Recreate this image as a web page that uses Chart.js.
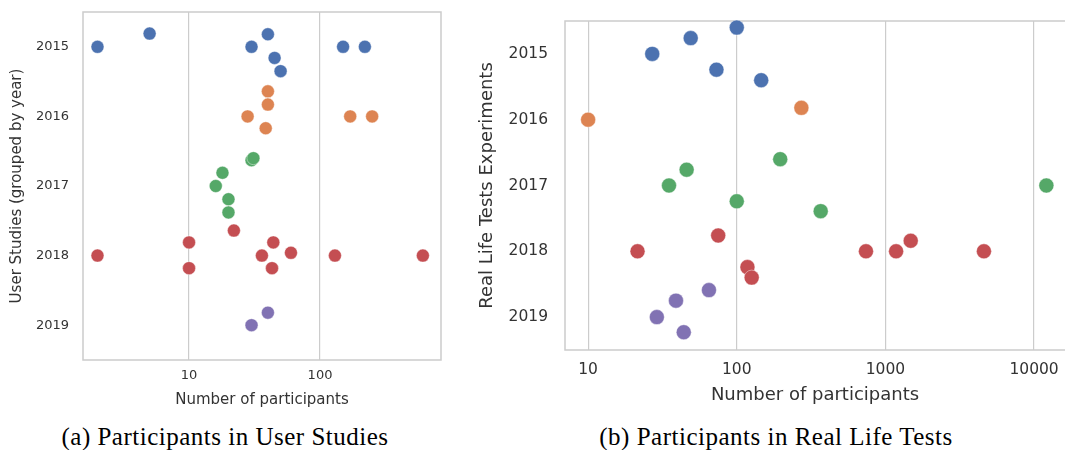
<!DOCTYPE html>
<html>
<head>
<meta charset="utf-8">
<script src="https://cdn.jsdelivr.net/npm/chart.js@4.4.0/dist/chart.umd.min.js"></script>
<style>
  html, body { margin: 0; padding: 0; background: #fff; overflow: hidden; }
  body { width: 1065px; height: 450px; position: relative; }
  canvas { position: absolute; top: 0; }
  #userChart { left: 0; }
  #realChart { left: 470px; }
  .caption {
    position: absolute; top: 424px;
    font-family: "Liberation Serif", serif; font-size: 25px; line-height: 25px;
    letter-spacing: 0.5px; color: #000; white-space: nowrap;
    transform: translateX(-50%);
  }
</style>
</head>
<body>
<canvas id="userChart" width="450" height="415"></canvas>
<canvas id="realChart" width="595" height="415"></canvas>
<div class="caption" style="left:225px">(a) Participants in User Studies</div>
<div class="caption" style="left:776px">(b) Participants in Real Life Tests</div>
<script>
const years = ["2015", "2016", "2017", "2018", "2019"];
const colors = ["#4C72B0", "#DD8452", "#55A868", "#C44E52", "#8172B3"];

// participants per study, one list per year (a)
const userCounts = [
  [2, 5, 40, 30, 45, 50, 150, 220],
  [40, 40, 28, 38.5, 170, 250],
  [30, 31, 18, 16, 20, 20],
  [22, 10, 2, 10, 36, 44, 60, 43, 130, 610],
  [40, 30],
];
// vertical jitter of each point around its year row
const userJitter = [
  [0, -0.19, -0.18, 0, 0.16, 0.35, 0, 0],
  [-0.36, -0.17, 0, 0.17, 0, 0],
  [-0.37, -0.4, -0.19, 0, 0.19, 0.38],
  [-0.36, -0.19, 0, 0.18, 0, -0.19, -0.04, 0.18, 0, 0],
  [-0.18, 0],
];

// participants per real life test, one list per year (b)
const realCounts = [
  [100, 49, 27, 73, 146],
  [10, 272],
  [196, 46, 35, 12100, 100, 367],
  [75, 21.5, 740, 1180, 1480, 4600, 118, 126],
  [65, 39, 29, 44],
];
const realJitter = [
  [-0.4, -0.24, 0, 0.24, 0.4],
  [0, -0.18],
  [-0.4, -0.24, 0, 0, 0.24, 0.39],
  [-0.24, 0, 0, 0, -0.16, 0, 0.24, 0.4],
  [-0.41, -0.25, 0, 0.23],
];

const userTicks = [10, 100];
const realTicks = [10, 100, 1000, 10000];

Chart.defaults.font.family = "DejaVu Sans";
Chart.defaults.color = "#333";

const frame = {
  id: "frame",
  beforeDatasetsDraw(chart, args, opts) {
    const { ctx, chartArea: a } = chart;
    ctx.save();
    ctx.strokeStyle = "#cccccc";
    ctx.lineWidth = 1.5;
    ctx.beginPath();
    if (opts.right) {
      ctx.rect(a.left, a.top, a.right - a.left, a.bottom - a.top);
    } else {
      ctx.moveTo(a.right + 2, a.top);
      ctx.lineTo(a.left, a.top);
      ctx.lineTo(a.left, a.bottom);
      ctx.lineTo(a.right + 2, a.bottom);
    }
    ctx.stroke();
    ctx.restore();
  },
};

function buildDatasets(counts, jitter, radius) {
  return counts.map((list, i) => ({
    label: years[i],
    data: list.map((v, j) => ({ x: v, y: i + jitter[i][j] })),
    backgroundColor: colors[i],
    borderColor: "rgba(255,255,255,0.7)",
    borderWidth: 0.6,
    pointRadius: radius,
    pointHoverRadius: radius,
    clip: false,
  }));
}

function makeChart(id, cfg) {
  new Chart(document.getElementById(id), {
    type: "scatter",
    data: { datasets: buildDatasets(cfg.counts, cfg.jitter, cfg.radius) },
    plugins: [frame],
    options: {
      responsive: false,
      animation: false,
      layout: {
        autoPadding: false,
        padding: { top: cfg.top, right: cfg.right, left: 0, bottom: 0 },
      },
      plugins: {
        legend: { display: false },
        tooltip: { enabled: false },
        frame: { right: cfg.drawRight },
      },
      scales: {
        x: {
          type: "logarithmic",
          min: cfg.xmin,
          max: cfg.xmax,
          afterBuildTicks: (s) => { s.ticks = cfg.ticks.map((v) => ({ value: v })); },
          afterFit: (s) => {
            s.height = cfg.xHeight;
            s.paddingLeft = 0;
            s.paddingRight = 0;
          },
          ticks: {
            autoSkip: false,
            maxRotation: 0,
            padding: cfg.xTickPad,
            font: { size: cfg.tickSize },
            callback: (v) => String(v),
          },
          grid: { color: "#cccccc", lineWidth: 1.2, drawTicks: false },
          border: { display: false },
          title: {
            display: true,
            text: "Number of participants",
            font: { size: cfg.titleSize },
            padding: { top: 0, bottom: cfg.xTitlePad },
          },
        },
        y: {
          type: "linear",
          reverse: true,
          min: -0.5,
          max: 4.5,
          afterBuildTicks: (s) => { s.ticks = years.map((y, i) => ({ value: i })); },
          afterFit: (s) => {
            s.width = cfg.yWidth;
            s.paddingTop = 0;
            s.paddingBottom = 0;
          },
          ticks: {
            padding: cfg.yTickPad,
            font: { size: cfg.tickSize },
            callback: (v) => years[v],
          },
          grid: { display: false, drawTicks: false },
          border: { display: false },
          title: {
            display: true,
            text: cfg.yTitle,
            font: { size: cfg.titleSize },
            padding: { top: cfg.yTitlePad, bottom: 0 },
          },
        },
      },
    },
  });
}

makeChart("userChart", {
  counts: userCounts, jitter: userJitter, radius: 6.5,
  ticks: userTicks, xmin: 1.55, xmax: 839,
  top: 12, right: 9, drawRight: true,
  xHeight: 55, yWidth: 83,
  tickSize: 13, titleSize: 15,
  xTickPad: 8, yTickPad: 14, xTitlePad: 6, yTitlePad: 8,
  yTitle: "User Studies (grouped by year)",
});

makeChart("realChart", {
  counts: realCounts, jitter: realJitter, radius: 7.5,
  ticks: realTicks, xmin: 6.99, xmax: 16150,
  top: 21, right: 0, drawRight: false,
  xHeight: 65, yWidth: 95,
  tickSize: 15.5, titleSize: 18,
  xTickPad: 11, yTickPad: 17, xTitlePad: 9, yTitlePad: 7,
  yTitle: "Real Life Tests Experiments",
});
</script>
</body>
</html>
